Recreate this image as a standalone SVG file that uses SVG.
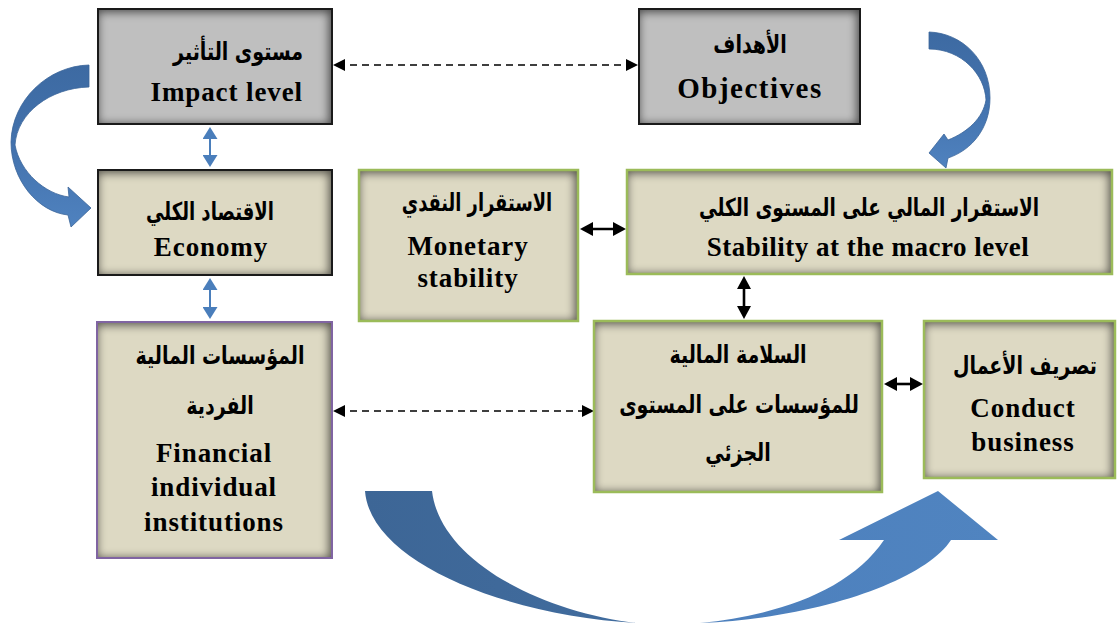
<svg xmlns="http://www.w3.org/2000/svg" width="1118" height="623" viewBox="0 0 1118 623">
  <style>
    .ar { font-family: "DejaVu Sans", "Noto Sans", sans-serif; font-weight: bold; font-size: 19px; fill: #000; text-anchor: middle; }
    .en { font-family: "Liberation Serif", "Times New Roman", serif; font-weight: bold; font-size: 27px; fill: #000; text-anchor: middle; letter-spacing: 0.9px; }
    .gray { fill: #bfbfbf; }
    .beige { fill: #ddd9c3; }
    .edge-black { fill: none; stroke: #1a1a1a; stroke-width: 2; }
    .edge-green { fill: none; stroke: #9bbb59; stroke-width: 2.5; }
    .edge-purple { fill: none; stroke: #8064a2; stroke-width: 2; }
    .dash { stroke: #000; stroke-width: 1.6; stroke-dasharray: 7 5; fill: none; }
    .solid { stroke: #000; stroke-width: 2.6; fill: none; }
    .blue { stroke: #4a7ebb; stroke-width: 2; fill: none; }
    .curl { stroke: #3a6599; stroke-width: 0.8; }
  </style>
  <defs>
    <filter id="inset" x="0" y="0" width="1" height="1" color-interpolation-filters="sRGB">
      <feOffset in="SourceAlpha" dx="-3" dy="3" result="off"/>
      <feGaussianBlur in="off" stdDeviation="5" result="blur"/>
      <feComposite in="SourceAlpha" in2="blur" operator="out" result="rim"/>
      <feFlood flood-color="#000" flood-opacity="0.62"/>
      <feComposite in2="rim" operator="in" result="shadow"/>
      <feMerge><feMergeNode in="SourceGraphic"/><feMergeNode in="shadow"/></feMerge>
    </filter>
    <marker id="headBlack" viewBox="0 0 12 12" markerWidth="12" markerHeight="12" refX="7" refY="6" orient="auto-start-reverse" markerUnits="userSpaceOnUse">
      <path d="M0,0 L12,6 L0,12 Z" fill="#000"/>
    </marker>
    <marker id="headSolid" viewBox="0 0 13 14" markerWidth="13" markerHeight="14" refX="8" refY="7" orient="auto-start-reverse" markerUnits="userSpaceOnUse">
      <path d="M0,0 L13,7 L0,14 Z" fill="#000"/>
    </marker>
    <marker id="headBlue" viewBox="0 0 12 15" markerWidth="12" markerHeight="15" refX="7" refY="7.5" orient="auto-start-reverse" markerUnits="userSpaceOnUse">
      <path d="M0,0 L12,7.5 L0,15 Z" fill="#4a7ebb"/>
    </marker>
    <linearGradient id="bigArrow" gradientUnits="userSpaceOnUse" x1="365" y1="0" x2="1000" y2="0">
      <stop offset="0" stop-color="#3d6696"/>
      <stop offset="0.42" stop-color="#416c9e"/>
      <stop offset="0.55" stop-color="#4d80bd"/>
      <stop offset="1" stop-color="#5084c0"/>
    </linearGradient>
    <linearGradient id="curlFill" x1="0" y1="0" x2="0" y2="1">
      <stop offset="0" stop-color="#3d6aa2"/>
      <stop offset="0.5" stop-color="#4372ad"/>
      <stop offset="1" stop-color="#4f82bf"/>
    </linearGradient>
  </defs>

  <!-- curved block arrows -->
  <g id="flow-arrows">
    <path class="curl" d="M89,65 C48,66 12,100 11,142 C11,180 38,212 68,215 L71,227 L91,208 L68,187 L69,197 C45,194 20,172 15,145 C17,113 50,88 89,87 Z" fill="url(#curlFill)"/>
    <path class="curl" d="M929,32 C962,33 990,60 990,98 C990,128 972,150 948,158 L946,168 L929,153 L944,134 L948,140 C968,132 983,118 986,100 C985,75 962,49 929,49 Z" fill="url(#curlFill)"/>
    <path d="M365,491 L432,491 C440,560 540,612 637,623 C500,615 370,560 365,491 Z M700,623 C780,615 850,590 884,540 L839,540 L938,491 L998,540 L951,540 C925,580 820,618 700,623 Z" fill="url(#bigArrow)"/>
  </g>

  <!-- connectors -->
  <g id="connectors">
    <line class="dash" x1="338" y1="65" x2="633" y2="65" marker-start="url(#headBlack)" marker-end="url(#headBlack)"/>
    <line class="dash" x1="338" y1="411" x2="589" y2="411" marker-start="url(#headBlack)" marker-end="url(#headBlack)"/>
    <line class="blue" x1="210" y1="132" x2="210" y2="162" marker-start="url(#headBlue)" marker-end="url(#headBlue)"/>
    <line class="blue" x1="210" y1="283" x2="210" y2="314" marker-start="url(#headBlue)" marker-end="url(#headBlue)"/>
    <line class="solid" x1="585" y1="229" x2="621" y2="229" marker-start="url(#headSolid)" marker-end="url(#headSolid)"/>
    <line class="solid" x1="744" y1="281" x2="744" y2="314" marker-start="url(#headSolid)" marker-end="url(#headSolid)"/>
    <line class="solid" x1="889" y1="384" x2="918" y2="384" marker-start="url(#headSolid)" marker-end="url(#headSolid)"/>
  </g>

  <g id="impact-level">
    <rect class="gray" x="98" y="9" width="234" height="115" filter="url(#inset)"/>
    <rect class="edge-black" x="98" y="9" width="234" height="115"/>
    <text class="ar" transform="translate(303 60) scale(1 1.3)" style="text-anchor:end">مستوى التأثير</text>
    <text class="en" x="303" y="101" style="text-anchor:end">Impact level</text>
  </g>

  <g id="objectives">
    <rect class="gray" x="639" y="9" width="221" height="115" filter="url(#inset)"/>
    <rect class="edge-black" x="639" y="9" width="221" height="115"/>
    <text class="ar" transform="translate(750 53) scale(1 1.3)">الأهداف</text>
    <text class="en" x="750" y="98" style="font-size:29px;letter-spacing:1.5px">Objectives</text>
  </g>

  <g id="economy">
    <rect class="beige" x="98" y="170" width="234" height="105" filter="url(#inset)"/>
    <rect class="edge-black" x="98" y="170" width="234" height="105"/>
    <text class="ar" transform="translate(210 220) scale(0.95 1.3)">الاقتصاد الكلي</text>
    <text class="en" x="211" y="256">Economy</text>
  </g>

  <g id="monetary-stability">
    <rect class="beige" x="359" y="170" width="219" height="151" filter="url(#inset)"/>
    <rect class="edge-green" x="359" y="170" width="219" height="151"/>
    <text class="ar" transform="translate(477 211) scale(0.94 1.3)">الاستقرار النقدي</text>
    <text class="en" x="468" y="255">Monetary</text>
    <text class="en" x="468" y="287">stability</text>
  </g>

  <g id="macro-stability">
    <rect class="beige" x="627" y="170" width="485" height="104" filter="url(#inset)"/>
    <rect class="edge-green" x="627" y="170" width="485" height="104"/>
    <text class="ar" transform="translate(869 216) scale(0.97 1.3)">الاستقرار المالي على المستوى الكلي</text>
    <text class="en" x="868" y="256" style="letter-spacing:0.5px">Stability at the macro level</text>
  </g>

  <g id="financial-institutions">
    <rect class="beige" x="97" y="322" width="235" height="236" filter="url(#inset)"/>
    <rect class="edge-purple" x="97" y="322" width="235" height="236"/>
    <text class="ar" transform="translate(220 364) scale(1 1.3)">المؤسسات المالية</text>
    <text class="ar" transform="translate(220 414) scale(1 1.3)">الفردية</text>
    <text class="en" x="214" y="462">Financial</text>
    <text class="en" x="214" y="496">individual</text>
    <text class="en" x="214" y="531">institutions</text>
  </g>

  <g id="micro-soundness">
    <rect class="beige" x="594" y="321" width="288" height="171" filter="url(#inset)"/>
    <rect class="edge-green" x="594" y="321" width="288" height="171"/>
    <text class="ar" transform="translate(738 363) scale(1 1.3)">السلامة المالية</text>
    <text class="ar" transform="translate(739 413) scale(1 1.3)">للمؤسسات على المستوى</text>
    <text class="ar" transform="translate(738 461) scale(1 1.3)">الجزئي</text>
  </g>

  <g id="conduct-business">
    <rect class="beige" x="924" y="321" width="191" height="157" filter="url(#inset)"/>
    <rect class="edge-green" x="924" y="321" width="191" height="157"/>
    <text class="ar" transform="translate(1025 374) scale(1 1.3)">تصريف الأعمال</text>
    <text class="en" x="1023" y="417">Conduct</text>
    <text class="en" x="1023" y="451">business</text>
  </g>
</svg>
